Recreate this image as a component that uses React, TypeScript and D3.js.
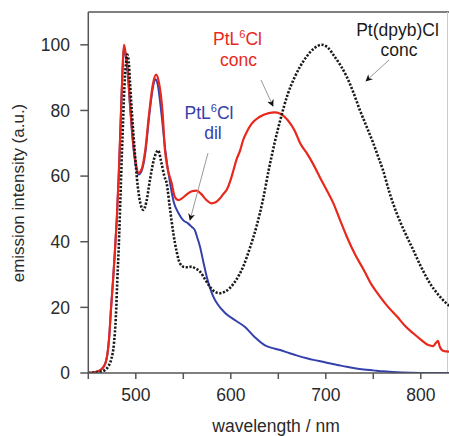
import React from 'react';
import * as d3 from 'd3';

// wavelength (nm) / intensity pairs
const concNm = [450, 460, 465, 468, 470, 472, 474, 476, 478, 480, 482, 484, 486, 487.5, 489, 491, 494, 497, 500, 503, 506, 510, 514, 518, 521.3, 524, 528, 530.7, 533, 537.8, 541, 544.8, 549, 554, 559, 564, 569, 574, 580, 584, 588, 592, 596, 600, 603, 606, 610, 613, 616, 622, 630, 640, 646, 652, 660, 667, 673, 680, 687, 694, 701, 708, 715, 722, 731, 740, 748, 757, 766, 775, 783, 792, 800, 808, 813, 816, 818, 820, 824, 830];
const concI = [0, 0.5, 1.5, 3, 5.5, 11, 20, 28, 37, 47, 60, 76, 92, 100, 98, 94, 82, 71, 64, 61, 62, 68, 79, 88, 90.9, 89, 80, 68, 63, 57.8, 53.7, 52.7, 53.3, 54.5, 55.4, 55.6, 54.5, 52.8, 51.7, 52, 53, 54.5, 56, 59, 62, 65, 68, 71, 73, 76, 78, 79.2, 79.4, 79, 77, 74, 70, 67, 63.5, 59.5, 55.7, 51.7, 46.6, 41.6, 36, 31.4, 27, 23.3, 20, 17.2, 14.5, 12.1, 10.2, 8.5, 8.2, 9.2, 9.8, 8, 6.7, 6.5];

const dilNm = [450, 460, 465, 468, 470, 472, 474, 476, 478, 480, 482, 484, 486, 487.5, 489, 491, 494, 497, 500, 503, 506, 510, 514, 518, 520.5, 523, 527, 531, 536, 540, 545, 550, 555, 559, 562, 565, 567.6, 571, 574.6, 578, 581.6, 586, 594, 605, 615, 625, 636, 645, 652, 662, 670, 680, 687, 697, 705, 715, 722, 732, 740, 750, 760, 770, 780, 790, 800, 830];
const dilI = [0, 0.5, 1.5, 3, 5.5, 11, 20, 28, 37, 47, 60, 76, 92, 99.5, 97, 93, 81, 70, 63, 60.5, 61.5, 67, 78, 87, 89.5, 88, 79, 68, 58, 52, 48.7, 46.5, 45.6, 44.5, 43.6, 41, 38.5, 34, 29.4, 26, 23.3, 21, 18.3, 16, 14, 11, 8.4, 7.5, 7, 6, 5.3, 4.5, 4, 3.4, 2.9, 2.3, 1.9, 1.4, 1.1, 0.8, 0.5, 0.3, 0.15, 0.05, 0, 0];

const dpybNm = [450, 462, 468, 471, 474, 477, 479, 480.5, 482, 484, 486, 488, 489.5, 491, 492.5, 494, 496, 499, 502, 505, 508, 511, 515, 519, 523.5, 527, 530, 532.5, 536, 539.5, 543, 546.5, 551, 555, 558.7, 563, 567.6, 573, 578, 583, 588.6, 594, 599, 606, 613, 620, 627, 634, 640, 646, 652, 660, 667, 673, 680, 688, 695.5, 702, 709, 716, 722, 729, 736, 743, 750, 755, 760, 767, 774.6, 783, 792, 800, 809.7, 818, 827, 830];
const dpybI = [0, 0.3, 1, 2, 4, 9, 17, 28, 38, 55, 72, 87, 94, 97, 95, 88, 79, 67, 57, 51.5, 49.7, 52, 59, 65, 67.8, 64, 60, 57.8, 50, 42.6, 37, 33.4, 32.3, 32.2, 32.4, 31.8, 30.9, 28.5, 26.3, 24.8, 24.3, 24.8, 25.9, 28.5, 32.4, 38, 44.6, 53, 62, 70, 77, 85, 90, 93.4, 96.5, 99, 100, 99.2, 96.5, 93.5, 90.3, 85.5, 80, 75, 70, 66, 62, 55, 48.7, 43, 37.5, 32.5, 27.3, 24, 21.2, 20.5];

const xTicks = [500, 600, 700, 800];
const xMinor = [450, 550, 650, 750];
const yTicks = [0, 20, 40, 60, 80, 100];

const font = 'Liberation Sans, Arial, sans-serif';
const axisColor = '#555';

const App = () => {
  const left = 88.3, right = 449.3, top = 12, bottom = 373;
  const x = d3.scaleLinear().domain([450, 830]).range([left, right]);
  const y = d3.scaleLinear().domain([0, 110]).range([bottom, top]);

  const line = d3.line<[number, number]>()
    .x(d => x(d[0]))
    .y(d => y(d[1]))
    .curve(d3.curveMonotoneX);

  const zip = (a: number[], b: number[]) => a.map((v, i) => [v, b[i]] as [number, number]);

  return (
    <svg width={449} height={436} style={{ position: 'absolute', left: 0, top: 0, background: '#fff' }}>
      <defs>
        <marker id="arr" viewBox="0 0 10 10" refX="9" refY="5" markerWidth="7" markerHeight="7" orient="auto">
          <path d="M0,0 L10,5 L0,10 L3,5 z" fill="#111" />
        </marker>
        <clipPath id="plot">
          <rect x={left} y={top} width={right - left} height={bottom - top} />
        </clipPath>
      </defs>

      {/* frame */}
      <line x1={left} x2={right} y1={top} y2={top} stroke={axisColor} strokeWidth={1.5} />
      <line x1={447.5} x2={447.5} y1={top} y2={bottom} stroke="#ccc" strokeWidth={1} />

      <g clipPath="url(#plot)">
        <path d={line(zip(dilNm, dilI)) || ''} fill="none" stroke="#3441ad" strokeWidth={2} />
        <path d={line(zip(concNm, concI)) || ''} fill="none" stroke="#e8281c" strokeWidth={2.2} />
        <path d={line(zip(dpybNm, dpybI)) || ''} fill="none" stroke="#1a1a1a" strokeWidth={2.6} strokeDasharray="2.2,1.6" />
      </g>

      {/* axes */}
      <line x1={left} x2={right} y1={bottom} y2={bottom} stroke={axisColor} strokeWidth={1.5} />
      <line x1={left} x2={left} y1={top} y2={bottom} stroke={axisColor} strokeWidth={1.5} />
      {xTicks.concat(xMinor).map(t => (
        <line key={'xt' + t} x1={x(t)} x2={x(t)} y1={bottom} y2={bottom + 6} stroke={axisColor} strokeWidth={1.5} />
      ))}
      {xTicks.map(t => (
        <text key={'xl' + t} x={x(t)} y={401} textAnchor="middle" fontFamily={font} fontSize={17.5} fill="#2a2a2a">{t}</text>
      ))}
      {yTicks.map(t => (
        <g key={'y' + t}>
          <line x1={left - 8} x2={left} y1={y(t)} y2={y(t)} stroke={axisColor} strokeWidth={1.5} />
          <text x={70} y={y(t)} dy="0.36em" textAnchor="end" fontFamily={font} fontSize={17.5} fill="#2a2a2a">{t}</text>
        </g>
      ))}
      <text x={276} y={432} textAnchor="middle" fontFamily={font} fontSize={17.5} fill="#2a2a2a">wavelength / nm</text>
      <text transform="translate(24,193) rotate(-90)" textAnchor="middle" fontFamily={font} fontSize={17} fill="#2a2a2a">emission intensity (a.u.)</text>

      {/* labels */}
      <g fontFamily={font} fontSize={17.5} textAnchor="middle">
        <text x={237.5} y={45} fill="#e8281c">PtL<tspan fontSize={11} dy={-7}>6</tspan><tspan dy={7}>Cl</tspan></text>
        <text x={238.5} y={66} fill="#e8281c">conc</text>
        <text x={209} y={119} fill="#3441ad">PtL<tspan fontSize={11} dy={-7}>6</tspan><tspan dy={7}>Cl</tspan></text>
        <text x={213} y={139} fill="#3441ad">dil</text>
        <text x={397.5} y={36} fill="#1a1a1a">Pt(dpyb)Cl</text>
        <text x={399} y={56} fill="#1a1a1a">conc</text>
      </g>
      <line x1={261} y1={80} x2={273} y2={106} stroke="#999" strokeWidth={1} markerEnd="url(#arr)" />
      <line x1={208} y1={153} x2={190} y2={220} stroke="#999" strokeWidth={1} markerEnd="url(#arr)" />
      <line x1={389} y1={60} x2={366} y2={81} stroke="#999" strokeWidth={1} markerEnd="url(#arr)" />
    </svg>
  );
};

export default App;
